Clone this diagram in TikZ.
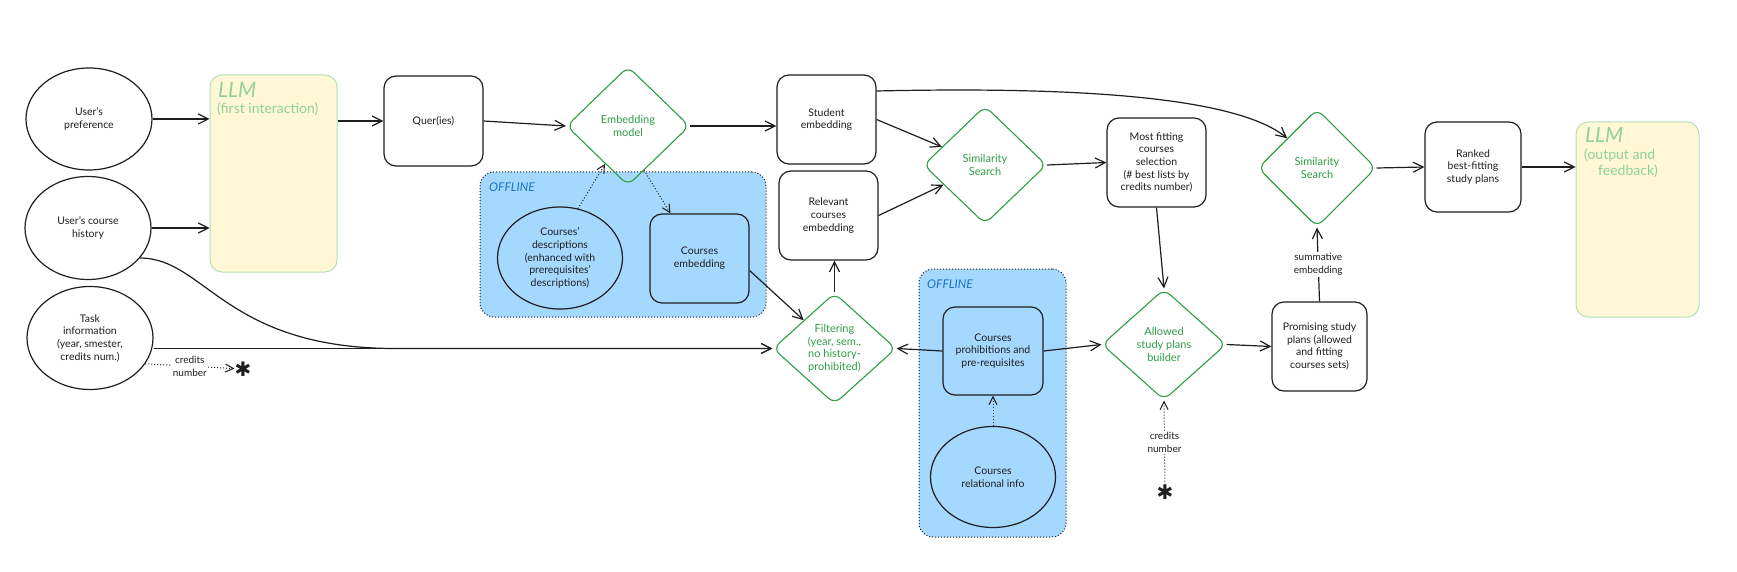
\documentclass[tikz,border=0pt]{standalone}
\usepackage{fontspec}
\setmainfont{Lato}
\newfontfamily\djv{DejaVu Sans}
\usetikzlibrary{shapes.geometric,arrows.meta}
\definecolor{ink}{HTML}{1E1E1E}
\definecolor{grn}{HTML}{2F9E44}
\definecolor{llmfill}{HTML}{FFF7D6}
\definecolor{llmline}{HTML}{B2E2B8}
\definecolor{llmtxt}{HTML}{8FD19A}
\definecolor{offfill}{HTML}{A5D8FF}
\definecolor{offtxt}{HTML}{1971C2}
\begin{document}
\begin{tikzpicture}[x=1pt,y=-1pt,
  txt/.style={align=center, font=\fontsize{10.5}{12.7}\selectfont, text=ink},
  gtxt/.style={align=center, font=\fontsize{11}{12.7}\selectfont, text=grn},
  ell/.style={ellipse, draw=ink, line width=1.2pt, inner sep=0pt, txt},
  box/.style={rectangle, rounded corners=12pt, draw=ink, line width=1.2pt, inner sep=0pt, txt},
  dia/.style={diamond, draw=grn, line width=1.1pt, rounded corners=8pt, inner sep=0pt, gtxt},
  llmbox/.style={rectangle, rounded corners=12pt, draw=llmline, fill=llmfill, line width=1pt, inner sep=0pt},
  offbox/.style={rectangle, rounded corners=14pt, draw=ink, dotted, line width=1pt, fill=offfill, inner sep=0pt},
  arr/.style={draw=ink, line width=1.2pt, -{Straight Barb[length=10pt,width=10pt]}},
  darr/.style={draw=ink, line width=1pt, dotted, -{Straight Barb[length=8pt,width=8pt]}},
  lab/.style={fill=white, inner sep=1.5pt, align=center, text=ink, font=\fontsize{10}{12.5}\selectfont},
  ast/.style={inner sep=0pt, text=ink, font=\djv\bfseries\fontsize{20}{20}\selectfont},
  llmt/.style={inner sep=0pt, text=llmtxt},
  offt/.style={inner sep=0pt, text=offtxt, font=\itshape\fontsize{12}{14}\selectfont}
]
\useasboundingbox (0,0) rectangle (1737,572);
\fill[white] (0,0) rectangle (1737,572);

% offline containers
\node[offbox, minimum width=286pt, minimum height=145pt] (off1) at (623,244.5) {};
\node[offt, anchor=base west] (off1t) at (489,192) {OFFLINE};
\node[offbox, minimum width=147pt, minimum height=268pt] (off2) at (992.5,403) {};
\node[offt, anchor=base west] (off2t) at (927,288) {OFFLINE};

% LLM boxes
\node[llmbox, minimum width=127pt, minimum height=197pt] (llm1) at (273.5,173.5) {};
\node[llmt, anchor=base west, font=\itshape\fontsize{21}{21}\selectfont] (llm1a) at (218,98) {LLM};
\node[llmt, anchor=base west, font=\fontsize{14}{16}\selectfont] (llm1b) at (217,114) {(first interaction)};
\node[llmbox, minimum width=123pt, minimum height=195pt] (llm2) at (1637.5,219.5) {};
\node[llmt, anchor=base west, font=\itshape\fontsize{21}{21}\selectfont] (llm2a) at (1585,143) {LLM};
\node[llmt, anchor=base west, font=\fontsize{14}{16}\selectfont] (llm2b) at (1584,160) {(output and};
\node[llmt, anchor=base, font=\fontsize{14}{16}\selectfont] (llm2c) at (1628,176) {feedback)};

% inputs
\node[ell, minimum width=126pt, minimum height=102pt] (pref) at (89,119) {User's\\preference};
\node[ell, minimum width=126pt, minimum height=103pt] (hist) at (88,228) {User's course\\history};
\node[ell, minimum width=126pt, minimum height=103pt] (task) at (90,338) {Task\\information\\(year, smester,\\credits num.)};

% boxes
\node[box, minimum width=99pt, minimum height=90pt] (quer) at (433.5,121) {Quer(ies)};
\node[dia, minimum width=123pt, minimum height=119pt] (emb) at (628,126) {Embedding\\model};
\node[ell, minimum width=125pt, minimum height=102pt] (cdesc) at (560,258) {Courses'\\descriptions\\(enhanced with\\prerequisites'\\descriptions)};
\node[box, minimum width=99pt, minimum height=89pt] (cemb) at (699.5,258.5) {Courses\\embedding};
\node[box, minimum width=99pt, minimum height=89pt] (stud) at (826.5,119.5) {Student\\embedding};
\node[box, minimum width=99pt, minimum height=89pt] (relv) at (828.5,215.5) {Relevant\\courses\\embedding};
\node[dia, minimum width=123pt, minimum height=118pt] (sim1) at (985,165) {Similarity\\Search};
\node[box, minimum width=99pt, minimum height=89pt] (most) at (1156.5,162.5) {Most fitting\\courses\\selection\\(\# best lists by\\credits number)};
\node[dia, minimum width=123pt, minimum height=111pt] (filt) at (834.5,348.5) {Filtering\\(year, sem.,\\no history-\\prohibited)};
\node[box, minimum width=100pt, minimum height=88pt] (proh) at (993,351) {Courses\\prohibitions and\\pre-requisites};
\node[ell, minimum width=125pt, minimum height=101pt] (rel) at (993,477) {Courses\\relational info};
\node[dia, minimum width=124pt, minimum height=111pt] (allow) at (1164,344.5) {Allowed\\study plans\\builder};
\node[box, minimum width=95pt, minimum height=89pt] (prom) at (1319.5,346.5) {Promising study\\plans (allowed\\and fitting\\courses sets)};
\node[dia, minimum width=118pt, minimum height=118pt] (sim2) at (1317,168) {Similarity\\Search};
\node[box, minimum width=96pt, minimum height=90pt] (rank) at (1473,167) {Ranked\\best-fitting\\study plans};

\node[ast] (ast1) at (243,369) {✱};
\node[ast] (ast2) at (1165,492) {✱};

% connectors
\draw[arr] (pref.east) -- (pref.east -| llm1.west);
\draw[arr] (hist.east) -- (hist.east -| llm1.west);
\draw[arr] (quer.west -| llm1.east) -- (quer.west);
\draw[arr] (quer.east) -- (emb.west);
\draw[arr] (emb.east) -- (emb.east -| stud.west);
\draw[darr] (cdesc.70) -- (emb);
\draw[darr] (emb.-70) -- ([xshift=-29pt]cemb.north);
\draw[arr] ([yshift=-12pt]cemb.east) -- (filt);
\draw[arr] (filt.north) -- (filt.north |- relv.south);
\draw[arr] (stud.east) -- (sim1);
\draw[arr] (relv.east) -- (sim1);
\draw[arr] (sim1.east) -- (most.west);
\draw[arr] (most.south) -- (allow.north);
\draw[arr] (proh.west) -- (filt.east);
\draw[arr] (proh.east) -- (allow.west);
\draw[darr] (rel.north) -- (proh.south);
\draw[arr] (allow.east) -- (prom.west);
\draw[arr] (prom.north) -- node[lab] {summative\\embedding} (sim2.south);
\draw[arr] (sim2.east) -- (rank.west);
\draw[arr] (rank.east) -- (rank.east -| llm2.west);
\draw[arr] ([yshift=28.5pt]stud.east) .. controls (1100,86) and (1240,100) .. (sim2.135);
\coordinate (merge) at (395,348.5);
\draw[arr] (task.east |- filt.west) -- (filt.west);
\draw[arr] (hist.-30) .. controls (205,258) and (225,348.5) .. (merge) -- (filt.west);
\draw[darr] (task.-25) -- node[lab] {credits\\number} (ast1);
\draw[darr] (ast2) -- node[lab] {credits\\number} (allow.south);
\end{tikzpicture}
\end{document}
